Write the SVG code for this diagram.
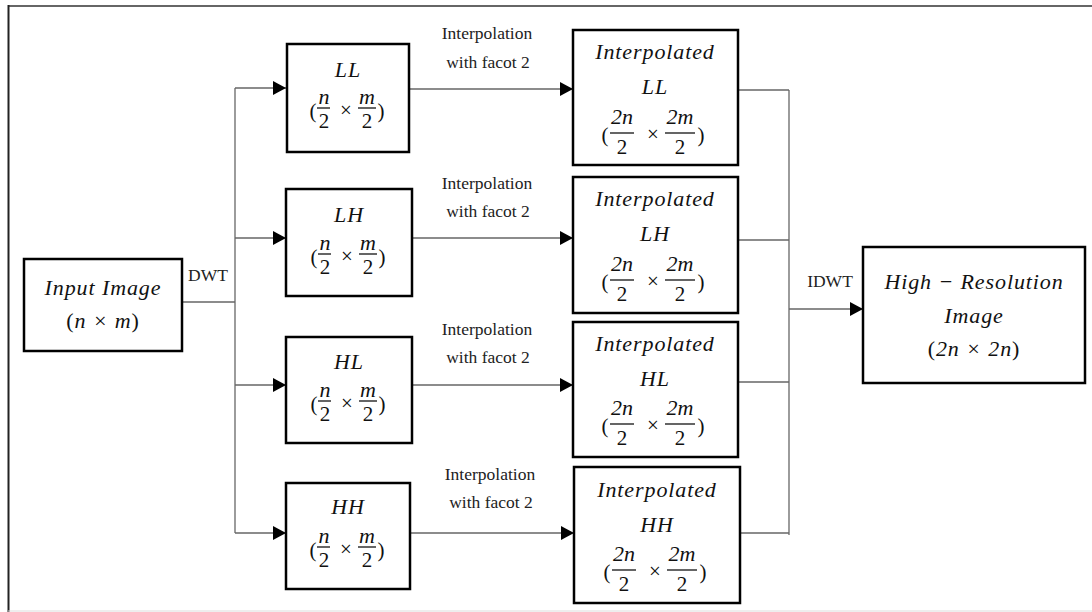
<svg xmlns="http://www.w3.org/2000/svg" width="1092" height="612" viewBox="0 0 1092 612">
<style>
.box{fill:#fff;stroke:#000;stroke-width:2.5}
.con{fill:none;stroke:#666;stroke-width:1.3}
.it{font-family:"Liberation Serif","DejaVu Serif",serif;font-style:italic;font-size:22px;letter-spacing:0.9px;fill:#111;text-anchor:middle}
.fr{font-family:"Liberation Serif","DejaVu Serif",serif;font-style:italic;font-size:22px;fill:#111;text-anchor:middle}
.rm{font-family:"Liberation Serif","DejaVu Serif",serif;font-size:21px;fill:#111;text-anchor:middle}
.lb{font-family:"Liberation Serif","DejaVu Serif",serif;font-size:17.5px;fill:#222;text-anchor:middle}
.bar{stroke:#111;stroke-width:1.3}
</style>
<defs>
<marker id="ah" markerUnits="userSpaceOnUse" markerWidth="14" markerHeight="14" refX="13" refY="7" orient="auto">
<path d="M0,0 L13,7 L0,14 z" fill="#000"/>
</marker>
</defs>
<rect width="1092" height="612" fill="#fff"/>
<g id="frame">
<line x1="8" y1="6" x2="1092" y2="6" stroke="#333" stroke-width="1.5"/>
<line x1="8.5" y1="5" x2="8.5" y2="612" stroke="#222" stroke-width="2"/>
<line x1="8" y1="611" x2="1092" y2="611" stroke="#ddd" stroke-width="1"/>
</g>
<g id="connectors">
<path class="con" d="M182,302 H235"/>
<path class="con" d="M235,88 V533"/>
<path class="con" d="M235,88 H286" marker-end="url(#ah)"/>
<path class="con" d="M235,238 H286" marker-end="url(#ah)"/>
<path class="con" d="M235,385 H286" marker-end="url(#ah)"/>
<path class="con" d="M235,533 H286" marker-end="url(#ah)"/>
<path class="con" d="M410,89 H573" marker-end="url(#ah)"/>
<path class="con" d="M412,238 H573" marker-end="url(#ah)"/>
<path class="con" d="M412,385 H573" marker-end="url(#ah)"/>
<path class="con" d="M410,533 H574" marker-end="url(#ah)"/>
<path class="con" d="M738,90 H789"/>
<path class="con" d="M738,240 H789"/>
<path class="con" d="M738,382 H789"/>
<path class="con" d="M740,533 H789"/>
<path class="con" d="M789,90 V535"/>
<path class="con" d="M789,309 H863" marker-end="url(#ah)"/>
<text class="lb" x="208" y="281">DWT</text>
<text class="lb" x="830" y="287">IDWT</text>
<text class="lb" x="487" y="39">Interpolation</text>
<text class="lb" x="488" y="68">with facot 2</text>
<text class="lb" x="487" y="189">Interpolation</text>
<text class="lb" x="488" y="217">with facot 2</text>
<text class="lb" x="487" y="335">Interpolation</text>
<text class="lb" x="488" y="363">with facot 2</text>
<text class="lb" x="490" y="480">Interpolation</text>
<text class="lb" x="491" y="508">with facot 2</text>
</g>
<g id="input">
<rect class="box" x="24" y="259" width="158" height="92"/>
<text class="it" x="103" y="295">Input Image</text>
<text class="it" x="103" y="328"><tspan font-style="normal">(</tspan>n × m<tspan font-style="normal">)</tspan></text>
</g>
<g id="LL">
<rect class="box" x="287" y="44" width="122" height="108"/>
<text class="it" x="348" y="77">LL</text>
<g transform="translate(348,111)">
<text class="rm" x="-35" y="7">(</text>
<text class="fr" x="-24" y="-7">n</text>
<line class="bar" x1="-31" y1="-3" x2="-18" y2="-3"/>
<text class="rm" x="-24" y="17">2</text>
<text class="rm" x="-2" y="6">×</text>
<text class="fr" x="19" y="-7">m</text>
<line class="bar" x1="10" y1="-3" x2="28" y2="-3"/>
<text class="rm" x="19" y="17">2</text>
<text class="rm" x="33" y="7">)</text>
</g>
</g>
<g id="LH">
<rect class="box" x="286" y="189" width="126" height="107"/>
<text class="it" x="349" y="222">LH</text>
<g transform="translate(349,257)">
<text class="rm" x="-35" y="7">(</text>
<text class="fr" x="-24" y="-7">n</text>
<line class="bar" x1="-31" y1="-3" x2="-18" y2="-3"/>
<text class="rm" x="-24" y="17">2</text>
<text class="rm" x="-2" y="6">×</text>
<text class="fr" x="19" y="-7">m</text>
<line class="bar" x1="10" y1="-3" x2="28" y2="-3"/>
<text class="rm" x="19" y="17">2</text>
<text class="rm" x="33" y="7">)</text>
</g>
</g>
<g id="HL">
<rect class="box" x="286" y="337" width="126" height="106"/>
<text class="it" x="349" y="369">HL</text>
<g transform="translate(349,404)">
<text class="rm" x="-35" y="7">(</text>
<text class="fr" x="-24" y="-7">n</text>
<line class="bar" x1="-31" y1="-3" x2="-18" y2="-3"/>
<text class="rm" x="-24" y="17">2</text>
<text class="rm" x="-2" y="6">×</text>
<text class="fr" x="19" y="-7">m</text>
<line class="bar" x1="10" y1="-3" x2="28" y2="-3"/>
<text class="rm" x="19" y="17">2</text>
<text class="rm" x="33" y="7">)</text>
</g>
</g>
<g id="HH">
<rect class="box" x="286" y="483" width="124" height="106"/>
<text class="it" x="348" y="514">HH</text>
<g transform="translate(348,550)">
<text class="rm" x="-35" y="7">(</text>
<text class="fr" x="-24" y="-7">n</text>
<line class="bar" x1="-31" y1="-3" x2="-18" y2="-3"/>
<text class="rm" x="-24" y="17">2</text>
<text class="rm" x="-2" y="6">×</text>
<text class="fr" x="19" y="-7">m</text>
<line class="bar" x1="10" y1="-3" x2="28" y2="-3"/>
<text class="rm" x="19" y="17">2</text>
<text class="rm" x="33" y="7">)</text>
</g>
</g>
<g id="iLL">
<rect class="box" x="573" y="30" width="165" height="135"/>
<text class="it" x="655" y="59">Interpolated</text>
<text class="it" x="655" y="94">LL</text>
<g transform="translate(655,136)">
<text class="rm" x="-50" y="6">(</text>
<text class="fr" x="-33" y="-12">2n</text>
<line class="bar" x1="-45" y1="-3" x2="-21" y2="-3"/>
<text class="rm" x="-33" y="18">2</text>
<text class="rm" x="-2" y="5">×</text>
<text class="fr" x="25" y="-12">2m</text>
<line class="bar" x1="10" y1="-3" x2="40" y2="-3"/>
<text class="rm" x="25" y="18">2</text>
<text class="rm" x="46" y="6">)</text>
</g>
</g>
<g id="iLH">
<rect class="box" x="573" y="177" width="165" height="136"/>
<text class="it" x="655" y="206">Interpolated</text>
<text class="it" x="655" y="241">LH</text>
<g transform="translate(655,283)">
<text class="rm" x="-50" y="6">(</text>
<text class="fr" x="-33" y="-12">2n</text>
<line class="bar" x1="-45" y1="-3" x2="-21" y2="-3"/>
<text class="rm" x="-33" y="18">2</text>
<text class="rm" x="-2" y="5">×</text>
<text class="fr" x="25" y="-12">2m</text>
<line class="bar" x1="10" y1="-3" x2="40" y2="-3"/>
<text class="rm" x="25" y="18">2</text>
<text class="rm" x="46" y="6">)</text>
</g>
</g>
<g id="iHL">
<rect class="box" x="573" y="322" width="165" height="135"/>
<text class="it" x="655" y="351">Interpolated</text>
<text class="it" x="655" y="386">HL</text>
<g transform="translate(655,427)">
<text class="rm" x="-50" y="6">(</text>
<text class="fr" x="-33" y="-12">2n</text>
<line class="bar" x1="-45" y1="-3" x2="-21" y2="-3"/>
<text class="rm" x="-33" y="18">2</text>
<text class="rm" x="-2" y="5">×</text>
<text class="fr" x="25" y="-12">2m</text>
<line class="bar" x1="10" y1="-3" x2="40" y2="-3"/>
<text class="rm" x="25" y="18">2</text>
<text class="rm" x="46" y="6">)</text>
</g>
</g>
<g id="iHH">
<rect class="box" x="574" y="467" width="166" height="136"/>
<text class="it" x="657" y="497">Interpolated</text>
<text class="it" x="657" y="532">HH</text>
<g transform="translate(657,573)">
<text class="rm" x="-50" y="6">(</text>
<text class="fr" x="-33" y="-12">2n</text>
<line class="bar" x1="-45" y1="-3" x2="-21" y2="-3"/>
<text class="rm" x="-33" y="18">2</text>
<text class="rm" x="-2" y="5">×</text>
<text class="fr" x="25" y="-12">2m</text>
<line class="bar" x1="10" y1="-3" x2="40" y2="-3"/>
<text class="rm" x="25" y="18">2</text>
<text class="rm" x="46" y="6">)</text>
</g>
</g>
<g id="output">
<rect class="box" x="863" y="247" width="222" height="136"/>
<text class="it" x="974" y="289">High − Resolution</text>
<text class="it" x="974" y="323">Image</text>
<text class="it" x="974" y="356"><tspan font-style="normal">(</tspan>2n × 2n<tspan font-style="normal">)</tspan></text>
</g>
</svg>
